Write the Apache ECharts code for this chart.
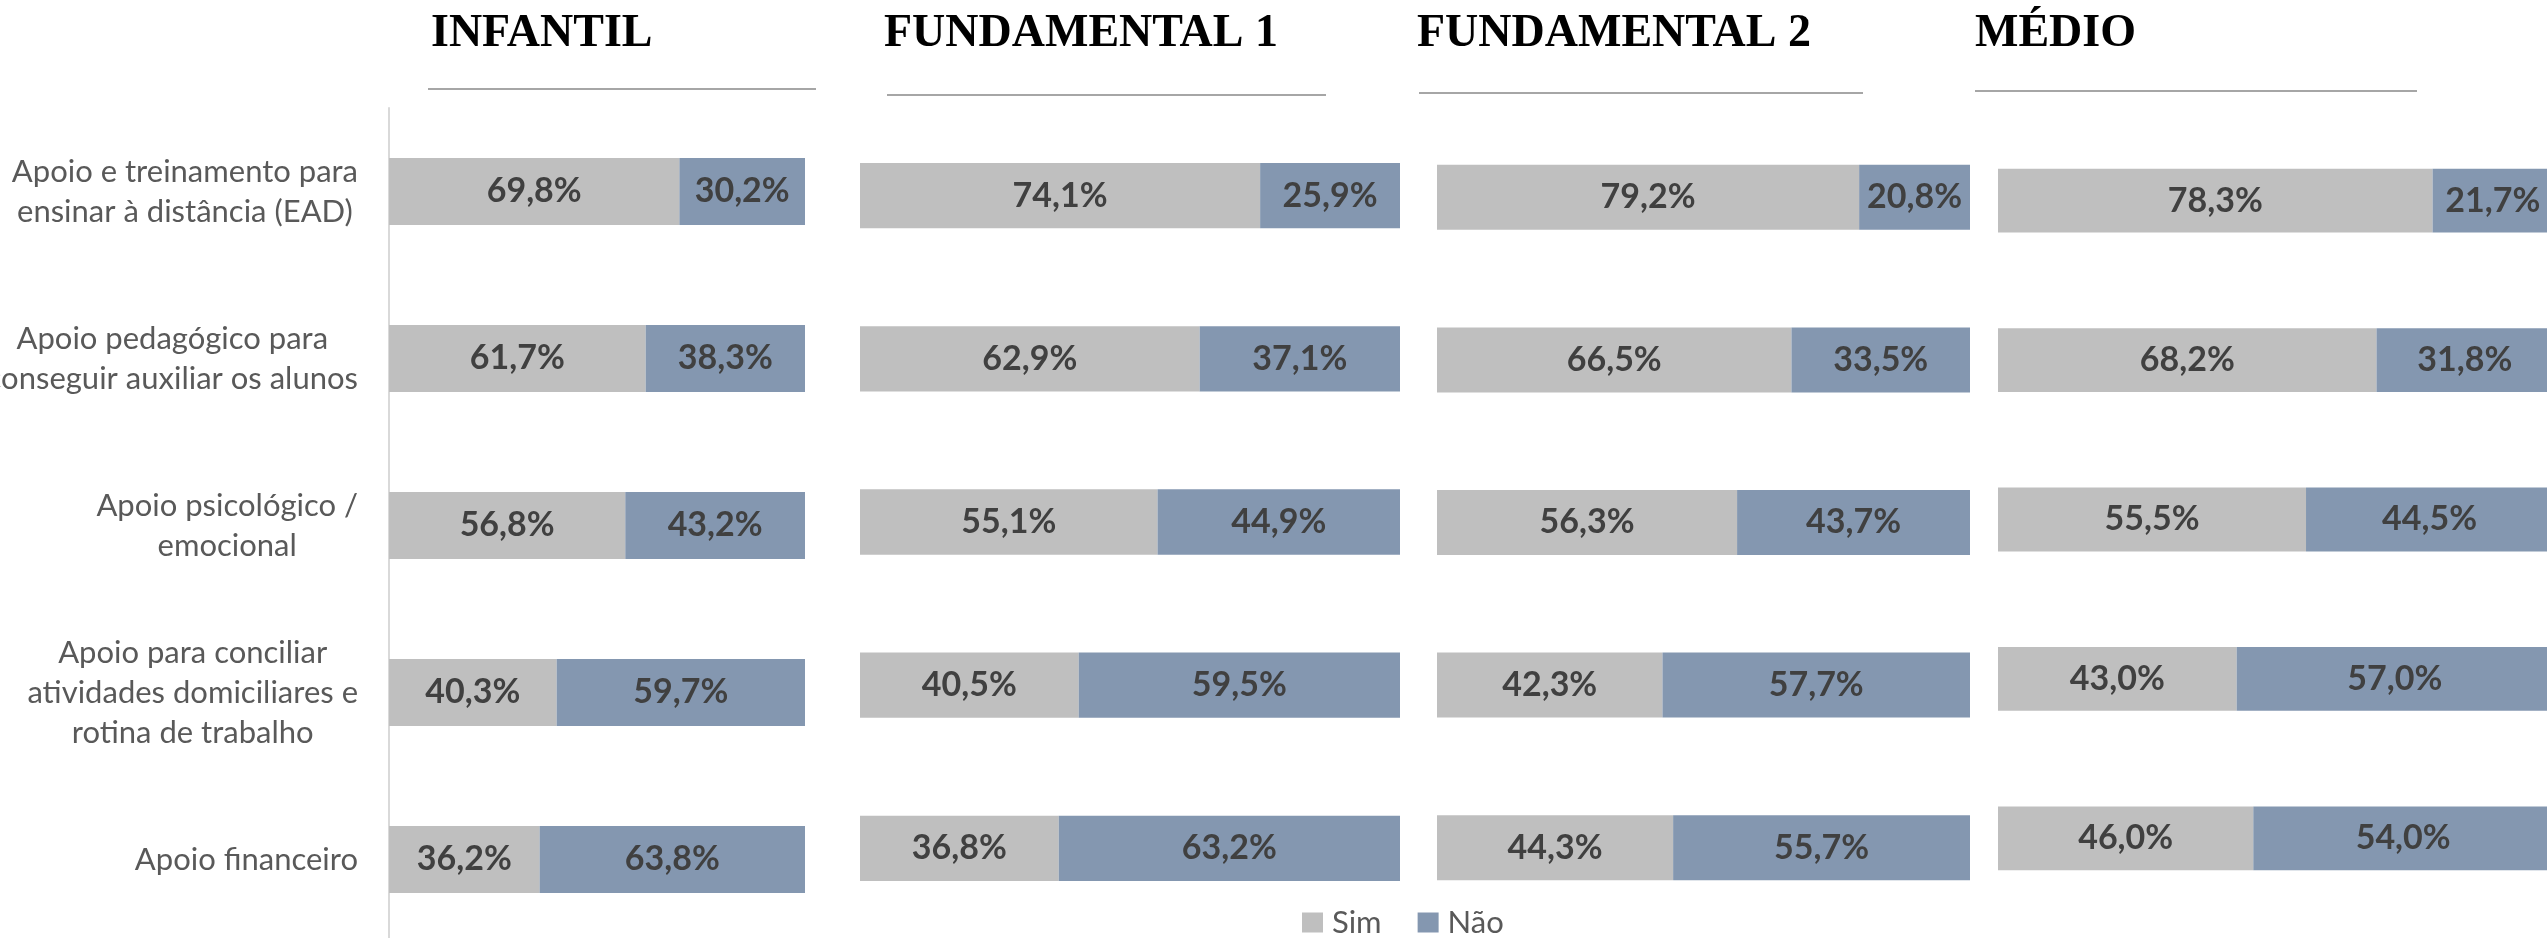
<!DOCTYPE html>
<html><head><meta charset="utf-8">
<script src="https://cdn.jsdelivr.net/npm/echarts@6/dist/echarts.min.js"></script>
<style>html,body{margin:0;padding:0;background:#fff}#c{width:2547px;height:938px}</style>
</head><body><div id="c"></div>
<script>
// ---- data ----
const categories = [
  'Apoio e treinamento para\nensinar à distância (EAD)',
  'Apoio pedagógico para\nconseguir auxiliar os alunos',
  'Apoio psicológico /\nemocional',
  'Apoio para conciliar\natividades domiciliares e\nrotina de trabalho',
  'Apoio financeiro'
];
const panelTitles = ['INFANTIL', 'FUNDAMENTAL 1', 'FUNDAMENTAL 2', 'MÉDIO'];
const seriesNames = ['Sim', 'Não'];
const simInfantil = [69.8, 61.7, 56.8, 40.3, 36.2];
const naoInfantil = [30.2, 38.3, 43.2, 59.7, 63.8];
const simFund1 = [74.1, 62.9, 55.1, 40.5, 36.8];
const naoFund1 = [25.9, 37.1, 44.9, 59.5, 63.2];
const simFund2 = [79.2, 66.5, 56.3, 42.3, 44.3];
const naoFund2 = [20.8, 33.5, 43.7, 57.7, 55.7];
const simMedio = [78.3, 68.2, 55.5, 43.0, 46.0];
const naoMedio = [21.7, 31.8, 44.5, 57.0, 54.0];

const simData = [simInfantil, simFund1, simFund2, simMedio];
const naoData = [naoInfantil, naoFund1, naoFund2, naoMedio];

// ---- layout (positions / styles) ----
const layout = [
  {left: 389, width: 416, top: 108, height: 835, tx: 431, lx1: 428, lx2: 816, ly: 89},
  {left: 860, width: 540, top: 114, height: 816, tx: 884, lx1: 887, lx2: 1326, ly: 95},
  {left: 1437, width: 533, top: 116, height: 813, tx: 1417, lx1: 1419, lx2: 1863, ly: 93},
  {left: 1998, width: 555, top: 121, height: 797, tx: 1975, lx1: 1975, lx2: 2417, ly: 91}
];
const colors = ['#bfbfbf', '#8497b0'];
const sansFont = 'Lato';

const chart = echarts.init(document.getElementById('c'), null, {renderer: 'canvas'});

const grids = [], xAxes = [], yAxes = [], series = [], graphics = [];
layout.forEach((L, i) => {
  grids.push({left: L.left, width: L.width, top: L.top, height: L.height,
              containLabel: false, outerBoundsMode: 'none'});
  xAxes.push({type: 'value', gridIndex: i, min: 0, max: 100, show: false});
  yAxes.push({
    type: 'category', gridIndex: i, inverse: true, data: categories,
    axisTick: {show: false},
    axisLine: {show: i === 0, lineStyle: {color: '#d9d9d9', width: 2}},
    axisLabel: {
      show: i === 0, align: 'right', margin: 31, hideOverlap: false,
      formatter: v => v.split('\n').map(s => '{c|' + s + '}').join('\n'),
      rich: {c: {align: 'center', fontFamily: sansFont, fontSize: 31, lineHeight: 40, color: '#595959'}}
    },
    splitLine: {show: false}
  });
  [simData[i], naoData[i]].forEach((d, k) => {
    series.push({
      name: seriesNames[k], type: 'bar', stack: 'p' + i,
      xAxisIndex: i, yAxisIndex: i, data: d,
      barCategoryGap: '60%',
      itemStyle: {color: colors[k]},
      label: {
        show: true, position: 'inside',
        formatter: p => p.value.toFixed(1).replace('.', ',') + '%',
        fontFamily: sansFont, fontWeight: 'bold', fontSize: 34, color: '#404040'
      },
      emphasis: {disabled: true}
    });
  });
  graphics.push({
    type: 'text', x: L.tx, y: 34,
    style: {text: panelTitles[i], fontFamily: 'Liberation Serif', fontWeight: 'bold', fontSize: 46,
            fill: '#000', verticalAlign: 'middle', textVerticalAlign: 'middle'}
  });
  graphics.push({
    type: 'line', shape: {x1: L.lx1, y1: L.ly, x2: L.lx2, y2: L.ly},
    style: {stroke: '#a6a6a6', lineWidth: 2}
  });
});

chart.setOption({
  backgroundColor: '#ffffff',
  animation: false,
  grid: grids, xAxis: xAxes, yAxis: yAxes, series: series,
  graphic: graphics,
  legend: {
    data: seriesNames, left: 1302, top: 907, icon: 'rect',
    itemWidth: 21, itemHeight: 20, itemGap: 36, padding: 0,
    textStyle: {fontFamily: sansFont, fontSize: 31, color: '#595959', padding: [0, 0, 0, 4]}
  }
});
</script></body></html>
